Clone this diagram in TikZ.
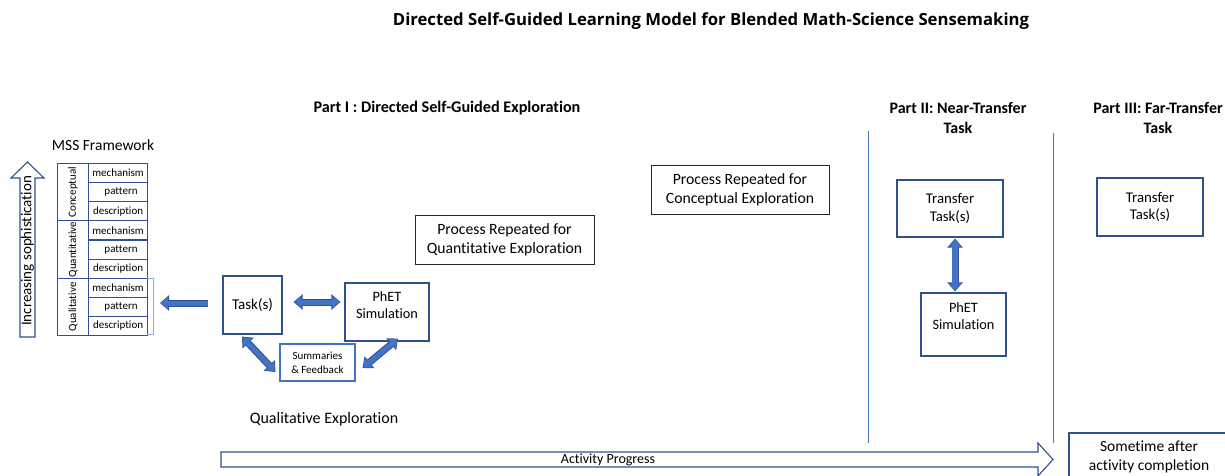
\documentclass[tikz,border=0pt]{standalone}
\usepackage{fontspec}
\setmainfont{Carlito}[Ligatures=NoCommon]
\newfontfamily\ttlfont{Open Sans}
\usetikzlibrary{arrows.meta}
\definecolor{edgeblue}{HTML}{2F528F}
\definecolor{fillblue}{HTML}{4472C4}
\definecolor{lineblue}{HTML}{4A72C0}
\definecolor{brkblue}{HTML}{8FAADC}
\newcommand\fsz[1]{\fontsize{#1}{#1}\selectfont}
\begin{document}
\begin{tikzpicture}[x=1pt,y=-1pt,
  box/.style={draw=edgeblue, line width=1.1pt, inner sep=0pt},
  pbox/.style={draw=black!85, line width=0.9pt, inner sep=0pt},
  cell/.style={draw=edgeblue, line width=1.1pt, inner sep=0pt, font=\fsz{11}},
  bigarrow/.style={line width=5pt, draw=fillblue,
     {Triangle[width=12pt,length=7pt]}-{Triangle[width=12pt,length=7pt]},
     shorten <=1.1pt, shorten >=1.1pt,
     preaction={draw=edgeblue, line width=7pt, shorten <=0pt, shorten >=0pt,
     {Triangle[width=15pt,length=9pt]}-{Triangle[width=15pt,length=9pt]}}},
  onearrow/.style={line width=5pt, draw=fillblue,
     -{Triangle[width=12pt,length=7pt]}, shorten >=1.1pt,
     preaction={draw=edgeblue, line width=7pt, shorten >=0pt,
     -{Triangle[width=15pt,length=9pt]}}},
  hollow/.style={draw=edgeblue, line width=1.1pt, fill=white, line join=miter},
  vline/.style={draw=lineblue, line width=1pt}
]
\useasboundingbox (0,0) rectangle (1225,476);

% titles
\node[font=\ttlfont\bfseries\fsz{16.7}] (title) at (711,21) {Directed Self-Guided Learning Model for Blended Math-Science Sensemaking};
\node[font=\bfseries\fsz{16.2}] (p1) at (447,108) {Part I : Directed Self-Guided Exploration};
\node[font=\bfseries\fsz{16}, align=center] (p2) at (958,118) {Part II: Near-Transfer\\[4pt]Task};
\node[font=\bfseries\fsz{16}, align=center] (p3) at (1158,118) {Part III: Far-Transfer\\[4pt]Task};
\node[font=\fsz{15.5}] (mss) at (103,145) {MSS Framework};

% increasing sophistication arrow
\draw[hollow] (20,337) -- (20,178) -- (11,178) -- (27.5,162) -- (44,178) -- (35,178) -- (35,337) -- cycle;
\node[rotate=90, font=\fsz{15}] (inc) at (27.5,251) {Increasing sophistication};

% MSS table
\foreach \g/\lab [count=\i from 0] in {Conceptual,Quantitative,Qualitative}{
  \node[cell, minimum width=31pt, minimum height=57.33pt, anchor=north west] (g\i) at (57,163+57.33*\i) {};
  \node[rotate=90, font=\fsz{11}] at (g\i) {\g};
}
\foreach \i in {0,...,8}{
  \pgfmathtruncatemacro\r{mod(\i,3)}
  \ifcase\r \def\t{mechanism}\or \def\t{\hspace*{6pt}pattern}\or \def\t{description}\fi
  \node[cell, minimum width=59pt, minimum height=19.11pt, anchor=north west] (r\i) at (88,163+19.11*\i) {\t};
}
% bracket
\draw[draw=brkblue, line width=0.7pt] (147,278.5) -- (153,278.5) -- (153,334) -- (147,334);
\coordinate (brk) at (153,306);

% part I boxes
\node[box, minimum width=59pt, minimum height=58pt, font=\fsz{15}] (task) at (252.5,305) {Task(s)};
\node[box, minimum width=84pt, minimum height=58pt] (phet) at (387,312) {};
\node[font=\fsz{14.3}, align=center] at (387,305) {PhET\\[2pt]Simulation};
\node[box, draw=fillblue, minimum width=75pt, minimum height=37pt, font=\fsz{11}, align=center] (summ) at (317.5,362.5) {Summaries\\[3pt]\& Feedback};
\node[font=\fsz{16}] (qual) at (324,419) {Qualitative Exploration};

\draw[bigarrow] ([xshift=11pt,yshift=3pt]task.east) -- ([xshift=-4pt,yshift=10pt]phet.west);
\draw[onearrow] ([xshift=-14pt,yshift=2pt]task.west) -- ([xshift=7pt,yshift=3pt]brk);
\draw[bigarrow] ([xshift=-10.5pt,yshift=-2pt]task.south) -- ([xshift=-4pt,yshift=-9.5pt]summ.west);
\draw[bigarrow] ([xshift=7pt,yshift=-5.5pt]summ.east) -- ([xshift=11pt,yshift=3pt]phet.south);

% process repeated boxes
\node[pbox, minimum width=179pt, minimum height=49pt, font=\fsz{15.7}, align=center] (rq) at (504.5,239.5) {Process Repeated for\\[3pt]Quantitative Exploration};
\node[pbox, minimum width=178pt, minimum height=49pt, font=\fsz{15.7}, align=center] (rc) at (740,189.5) {Process Repeated for\\[3pt]Conceptual Exploration};

% separators
\coordinate (v1t) at (868,131); \coordinate (v1b) at (868,443);
\coordinate (v2t) at (1053,133); \coordinate (v2b) at (1053,443);
\draw[vline] (v1t) -- (v1b);
\draw[vline] (v2t) -- (v2b);

% part II
\node[box, minimum width=106pt, minimum height=57pt, font=\fsz{14.8}, align=center] (tt1) at (950,208.5) {Transfer\\[3pt]Task(s)};
\node[box, minimum width=85pt, minimum height=63pt] (phet2) at (963.5,324.5) {};
\node[font=\fsz{14.3}, align=center] at (963.5,316) {PhET\\[3pt]Simulation};
\draw[bigarrow, line width=6pt, preaction={line width=8pt}] ([xshift=5pt,yshift=-1pt]tt1.south) -- ([xshift=-8.5pt,yshift=1pt]phet2.north);

% part III
\node[box, minimum width=106pt, minimum height=58pt, font=\fsz{14.8}, align=center] (tt2) at (1150,207) {Transfer\\[3pt]Task(s)};

% activity progress arrow
\draw[hollow] (221,452) -- (1038,452) -- (1038,443) -- (1053,459.5) -- (1038,476) -- (1038,467) -- (221,467) -- cycle;
\node[font=\fsz{14}] (ap) at (608,459.5) {Activity Progress};

% sometime box
\draw[draw=edgeblue, line width=1.1pt] (1230,433) -- (1069,433) -- (1069,480);
\node[font=\fsz{15.5}, align=center] (st) at (1149,457) {Sometime after\\[3pt]activity completion};
\end{tikzpicture}
\end{document}
